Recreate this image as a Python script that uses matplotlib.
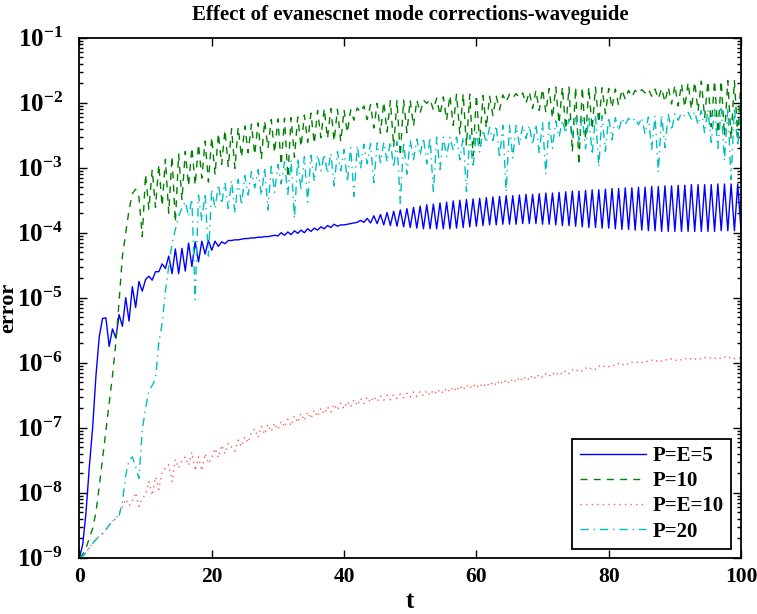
import numpy as np
import matplotlib
matplotlib.use('Agg')
import matplotlib.pyplot as plt
from matplotlib.ticker import LogLocator, NullFormatter

plt.rcParams['font.family'] = ['Liberation Serif', 'DejaVu Serif']
plt.rcParams['font.weight'] = 'bold'
plt.rcParams['mathtext.fontset'] = 'custom'
plt.rcParams['mathtext.rm'] = 'Liberation Serif:bold'
plt.rcParams['mathtext.bf'] = 'Liberation Serif:bold'
plt.rcParams['mathtext.it'] = 'Liberation Serif:bold:italic'
plt.rcParams['mathtext.default'] = 'rm'

# ---------------- data (log10 of error), t = 0, 0.5, ..., 100 ----------------
t = np.arange(0, 100.5, 0.5)

title = "Effect of evanescnet mode corrections-waveguide"
xlabel = "t"
ylabel = "error"
labels = ["P=E=5", "P=10", "P=E=10", "P=20"]
xticks = [0, 20, 40, 60, 80, 100]
yexp_ticks = [-9, -8, -7, -6, -5, -4, -3, -2, -1]

blue_exp = [
    -9.0, -8.8, -8.3, -7.6, -7.0, -6.2, -5.6, -5.32, -5.31, -5.75,
    -5.48, -5.62, -5.26, -5.44, -5.0, -5.36, -4.83, -5.15, -4.75, -4.9,
    -4.72, -4.67, -4.73, -4.6, -4.6, -4.48, -4.55, -4.36, -4.63, -4.25,
    -4.63, -4.24, -4.59, -4.16, -4.52, -4.14, -4.45, -4.13, -4.33, -4.12,
    -4.27, -4.13, -4.21, -4.14, -4.17, -4.12, -4.12, -4.11, -4.11, -4.10,
    -4.09, -4.09, -4.08, -4.08, -4.07, -4.07, -4.06, -4.06, -4.05, -4.04,
    -4.05, -4.0, -4.04, -3.99, -4.03, -3.97, -4.01, -3.96, -4.0, -3.94,
    -3.98, -3.93, -3.96, -3.91, -3.94, -3.89, -3.92, -3.87, -3.9, -3.88,
    -3.88, -3.87, -3.86, -3.85, -3.84, -3.81, -3.84, -3.78, -3.85, -3.74,
    -3.86, -3.72, -3.88, -3.69, -3.89, -3.67, -3.90, -3.65, -3.91, -3.63,
    -3.92, -3.61, -3.93, -3.59, -3.94, -3.57, -3.94, -3.56, -3.94, -3.54,
    -3.94, -3.53, -3.94, -3.51, -3.93, -3.50, -3.92, -3.49, -3.91, -3.48,
    -3.90, -3.47, -3.89, -3.46, -3.88, -3.45, -3.88, -3.44, -3.87, -3.43,
    -3.87, -3.43, -3.87, -3.42, -3.86, -3.41, -3.86, -3.41, -3.86, -3.40,
    -3.87, -3.39, -3.87, -3.39, -3.88, -3.38, -3.89, -3.37, -3.89, -3.36,
    -3.90, -3.36, -3.91, -3.35, -3.92, -3.34, -3.92, -3.34, -3.93, -3.33,
    -3.93, -3.32, -3.94, -3.32, -3.95, -3.31, -3.95, -3.31, -3.96, -3.30,
    -3.96, -3.30, -3.97, -3.29, -3.97, -3.29, -3.98, -3.28, -3.98, -3.28,
    -3.98, -3.27, -3.98, -3.27, -3.98, -3.26, -3.98, -3.26, -3.98, -3.26,
    -3.98, -3.26, -3.98, -3.25, -3.97, -3.25, -3.97, -3.25, -3.97, -3.25,
    -3.97,
]

green_exp = [
    -9.0, -8.95, -8.85, -8.7, -8.55, -8.3, -7.9, -7.48, -7.05, -6.62,
    -6.2, -5.7, -5.05, -4.36, -4.0, -3.65, -3.4, -3.33, -3.45, -4.06,
    -3.10, -3.64, -3.03, -3.61, -2.95, -3.59, -2.87, -3.70, -2.82, -3.84,
    -2.79, -3.50, -2.75, -3.28, -2.69, -3.27, -2.64, -3.16, -2.59, -3.22,
    -2.53, -3.11, -2.47, -2.95, -2.42, -2.99, -2.40, -3.01, -2.38, -2.84,
    -2.36, -2.77, -2.33, -2.80, -2.31, -2.87, -2.28, -2.70, -2.26, -2.77,
    -2.25, -2.96, -2.24, -3.15, -2.23, -2.84, -2.22, -2.68, -2.19, -2.61,
    -2.16, -2.63, -2.12, -2.54, -2.09, -2.55, -2.09, -2.59, -2.10, -2.60,
    -2.11, -2.46, -2.11, -2.27, -2.08, -2.15, -2.05, -2.26, -2.03, -2.39,
    -2.01, -2.47, -1.99, -2.45, -1.97, -2.68, -1.96, -2.82, -1.96, -2.46,
    -1.96, -2.36, -1.96, -2.16, -1.96, -2.01, -1.95, -2.11, -1.93, -2.19,
    -1.91, -2.27, -1.89, -2.35, -1.87, -2.48, -1.86, -2.66, -1.87, -2.82,
    -1.88, -2.63, -1.89, -2.39, -1.90, -2.20, -1.90, -2.11, -1.88, -1.99,
    -1.87, -1.93, -1.86, -1.92, -1.85, -2.01, -1.83, -2.09, -1.81, -2.12,
    -1.79, -2.15, -1.78, -2.24, -1.76, -2.32, -1.76, -2.41, -1.76, -2.76,
    -1.76, -2.96, -1.76, -2.56, -1.76, -2.41, -1.76, -2.31, -1.77, -2.17,
    -1.78, -2.08, -1.79, -2.04, -1.80, -1.95, -1.81, -1.91, -1.81, -1.86,
    -1.80, -1.85, -1.79, -1.90, -1.79, -1.94, -1.78, -1.99, -1.76, -2.02,
    -1.73, -2.05, -1.71, -2.07, -1.69, -2.10, -1.68, -2.13, -1.67, -2.23,
    -1.67, -2.37, -1.66, -2.47, -1.66, -2.51, -1.66, -2.56, -1.66, -2.51,
    -1.66,
]

red_exp = [
    -9.0, -8.98, -8.92, -8.85, -8.78, -8.72, -8.67, -8.63, -8.57, -8.5,
    -8.44, -8.4, -8.32, -8.22, -8.1, -8.2, -8.13, -8.0, -8.21, -8.09,
    -8.03, -7.83, -8.04, -7.76, -7.95, -7.68, -7.62, -7.57, -7.83, -7.49,
    -7.62, -7.5, -7.45, -7.58, -7.38, -7.66, -7.45, -7.66, -7.4, -7.55,
    -7.47, -7.32, -7.46, -7.27, -7.4, -7.24, -7.3, -7.36, -7.19, -7.29,
    -7.14, -7.23, -7.08, -7.02, -7.15, -6.98, -7.1, -6.95, -7.06, -6.93,
    -7.03, -6.9, -6.99, -6.87, -6.97, -6.82, -6.92, -6.78, -6.89, -6.76,
    -6.86, -6.73, -6.83, -6.7, -6.79, -6.68, -6.76, -6.64, -6.73, -6.62,
    -6.71, -6.6, -6.68, -6.57, -6.66, -6.55, -6.63, -6.53, -6.61, -6.52,
    -6.6, -6.51, -6.58, -6.5, -6.57, -6.49, -6.55, -6.48, -6.54, -6.47,
    -6.53, -6.45, -6.52, -6.44, -6.51, -6.43, -6.5, -6.42, -6.48, -6.41,
    -6.47, -6.39, -6.45, -6.37, -6.44, -6.35, -6.42, -6.34, -6.4, -6.33,
    -6.39, -6.32, -6.38, -6.31, -6.36, -6.29, -6.35, -6.27, -6.33, -6.26,
    -6.32, -6.24, -6.3, -6.22, -6.28, -6.21, -6.27, -6.19, -6.25, -6.18,
    -6.23, -6.17, -6.21, -6.15, -6.2, -6.14, -6.18, -6.12, -6.17, -6.11,
    -6.14, -6.1, -6.13, -6.08, -6.11, -6.07, -6.1, -6.05, -6.08, -6.04,
    -6.06, -6.03, -6.05, -6.01, -6.04, -6.0, -6.03, -5.99, -6.01, -5.98,
    -6.0, -5.97, -5.99, -5.96, -5.99, -5.95, -5.98, -5.95, -5.97, -5.94,
    -5.97, -5.94, -5.96, -5.93, -5.96, -5.93, -5.95, -5.92, -5.95, -5.92,
    -5.94, -5.92, -5.94, -5.91, -5.94, -5.91, -5.94, -5.91, -5.94, -5.92,
    -5.94,
]

cyan_exp = [
    -9.0, -8.98, -8.92, -8.85, -8.78, -8.72, -8.67, -8.63, -8.57, -8.5,
    -8.44, -8.4, -8.35, -8.14, -7.73, -7.5, -7.45, -7.6, -7.78, -7.04,
    -6.7, -6.43, -6.35, -6.25, -5.69, -5.4, -4.9, -4.52, -4.16, -3.95,
    -3.75, -3.62, -3.52, -3.75, -3.48, -5.03,
    -3.42, -3.82, -3.39, -4.36, -3.33, -3.63, -3.26, -3.56, -3.23, -3.63,
    -3.20, -3.70, -3.18, -3.58, -3.12, -3.42, -3.06, -3.31, -3.03, -3.43,
    -3.00, -3.65, -2.98, -3.38, -2.95, -3.25, -2.91, -3.41, -2.88, -3.78,
    -2.85, -3.35, -2.83, -3.53, -2.81, -3.21, -2.80, -3.05, -2.79, -3.09,
    -2.78, -3.28, -2.75, -3.05, -2.72, -3.22, -2.69, -3.44, -2.66, -3.01,
    -2.64, -2.94, -2.63, -3.23, -2.62, -2.92, -2.61, -2.91, -2.60, -3.00,
    -2.60, -3.55, -2.60, -3.10, -2.58, -2.88, -2.56, -2.81, -2.54, -2.94,
    -2.53, -3.39, -2.53, -3.03, -2.53, -2.83, -2.53, -2.73, -2.53, -2.88,
    -2.53, -3.37, -2.50, -3.00, -2.46, -2.76, -2.42, -2.62, -2.38, -2.58,
    -2.35, -2.85, -2.35, -3.37, -2.35, -2.85, -2.35, -2.65, -2.35, -2.55,
    -2.35, -2.65, -2.33, -2.78, -2.31, -3.10, -2.30, -2.70, -2.28, -2.53,
    -2.27, -2.47, -2.25, -2.50, -2.23, -2.58, -2.21, -2.71, -2.20, -2.80,
    -2.19, -2.99, -2.20, -2.75, -2.22, -2.57, -2.23, -2.43, -2.24, -2.34,
    -2.24, -2.29, -2.24, -2.34, -2.23, -2.48, -2.22, -2.72, -2.20, -3.07,
    -2.19, -2.69, -2.18, -2.43, -2.17, -2.27, -2.16, -2.21, -2.15, -2.25,
    -2.14, -2.34, -2.12, -2.47, -2.11, -2.61, -2.10, -2.70, -2.09, -2.89,
    -2.08, -3.18, -2.07, -2.67, -2.07,
]

# ---------------- figure ----------------
fig = plt.figure(figsize=(7.57, 6.14), dpi=100)
ax = fig.add_axes([0.1049, 0.0917, 0.874, 0.8469])

ax.semilogy(t, 10.0 ** np.array(blue_exp), color=(0, 0, 1), lw=1.0,
            label=labels[0])
ax.semilogy(t, 10.0 ** np.array(green_exp), color=(0, 0.5, 0), lw=1.0,
            dashes=(5, 4.5), label=labels[1])
ax.semilogy(t, 10.0 ** np.array(red_exp), color=(1, 0, 0), lw=1.0,
            dashes=(1, 3), alpha=0.65, label=labels[2])
ax.semilogy(t, 10.0 ** np.array(cyan_exp), color=(0, 0.75, 0.75), lw=1.0,
            dashes=(6, 3.5, 1, 3.5), label=labels[3])

ax.set_xlim(0, 100)
ax.set_ylim(1e-9, 1e-1)
ax.set_xticks(xticks)
ax.set_xticklabels([str(v) for v in xticks])
ax.set_yticks([10.0 ** e for e in yexp_ticks])
ax.set_yticklabels([r'$10^{%d}$' % e for e in yexp_ticks])
ax.yaxis.set_minor_locator(LogLocator(base=10, subs=np.arange(2, 10), numticks=20))
ax.yaxis.set_minor_formatter(NullFormatter())

ax.tick_params(which='both', direction='in', top=True, right=True, width=1.0)
ax.tick_params(which='major', length=6)
ax.tick_params(which='minor', length=3)
ax.tick_params(axis='x', which='major', labelsize=15.5, pad=7)
ax.tick_params(axis='y', which='major', labelsize=18, pad=12)
for s in ax.spines.values():
    s.set_linewidth(1.3)

ax.set_title(title, fontsize=15, fontweight='bold', pad=13)
ax.set_xlabel(xlabel, fontsize=18, fontweight='bold', labelpad=2)
ax.set_ylabel(ylabel, fontsize=16, fontweight='bold')
ax.yaxis.set_label_coords(-0.092, 0.48)

leg = ax.legend(loc='lower right', bbox_to_anchor=(0.985, 0.017),
                borderaxespad=0, fontsize=15, handlelength=3.2,
                handletextpad=0.3, labelspacing=0.25, fancybox=False,
                framealpha=1, edgecolor='black', borderpad=0.35)
leg.get_frame().set_linewidth(1.3)
for txt in leg.get_texts():
    txt.set_fontweight('bold')

fig.savefig('out.png', dpi=100)
